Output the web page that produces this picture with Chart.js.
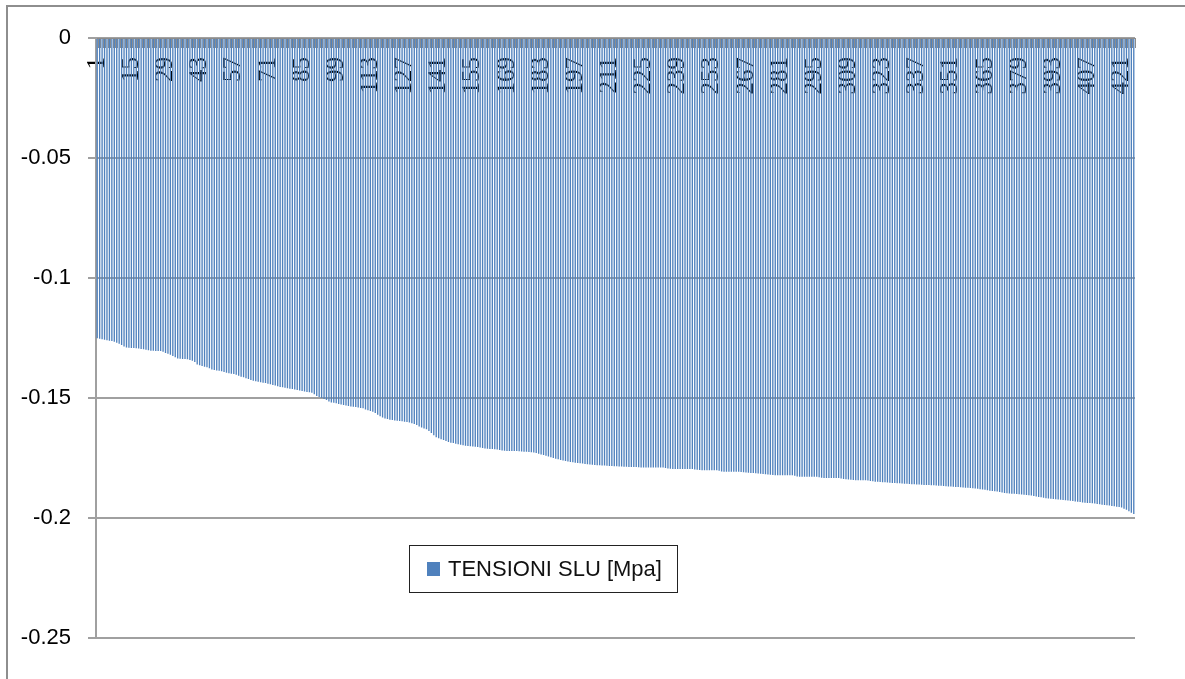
<!DOCTYPE html>
<html>
<head>
<meta charset="utf-8">
<title>TENSIONI SLU [Mpa]</title>
<script src="https://cdn.jsdelivr.net/npm/chart.js@4.4.1/dist/chart.umd.min.js"></script>
<style>
  html, body { margin: 0; padding: 0; background: #fff; overflow: hidden; }
  #frame { position: absolute; left: 6px; top: 5px; width: 1400px; height: 900px; border: 2px solid #8e8e8e; }
  #wrap { position: absolute; left: 0; top: 0; width: 1185px; height: 679px; }
</style>
</head>
<body>
<div id="frame"></div>
<div id="wrap"><canvas id="chart"></canvas></div>
<script>
// Stress per element, sorted, one row per 14 elements
const values = [
  -0.1251, -0.1253, -0.1255, -0.1257, -0.1259, -0.1261, -0.1263, -0.1266, -0.1270, -0.1274, -0.1279, -0.1285, -0.1290, -0.1291,
  -0.1292, -0.1292, -0.1293, -0.1294, -0.1296, -0.1297, -0.1299, -0.1301, -0.1303, -0.1303, -0.1304, -0.1304, -0.1304, -0.1307,
  -0.1312, -0.1316, -0.1320, -0.1325, -0.1330, -0.1335, -0.1336, -0.1337, -0.1338, -0.1339, -0.1342, -0.1345, -0.1350, -0.1360,
  -0.1364, -0.1367, -0.1370, -0.1372, -0.1376, -0.1381, -0.1383, -0.1385, -0.1386, -0.1389, -0.1392, -0.1395, -0.1397, -0.1399,
  -0.1400, -0.1403, -0.1407, -0.1411, -0.1414, -0.1418, -0.1421, -0.1425, -0.1428, -0.1430, -0.1432, -0.1434, -0.1436, -0.1438,
  -0.1441, -0.1443, -0.1446, -0.1448, -0.1451, -0.1454, -0.1455, -0.1457, -0.1459, -0.1461, -0.1463, -0.1465, -0.1467, -0.1469,
  -0.1471, -0.1473, -0.1475, -0.1476, -0.1478, -0.1484, -0.1492, -0.1496, -0.1500, -0.1504, -0.1508, -0.1515, -0.1519, -0.1520,
  -0.1522, -0.1525, -0.1527, -0.1529, -0.1531, -0.1533, -0.1535, -0.1536, -0.1538, -0.1540, -0.1542, -0.1543, -0.1548, -0.1551,
  -0.1554, -0.1557, -0.1563, -0.1570, -0.1576, -0.1581, -0.1585, -0.1588, -0.1591, -0.1592, -0.1594, -0.1595, -0.1596, -0.1597,
  -0.1599, -0.1600, -0.1602, -0.1605, -0.1608, -0.1613, -0.1619, -0.1623, -0.1627, -0.1630, -0.1638, -0.1646, -0.1655, -0.1664,
  -0.1668, -0.1672, -0.1675, -0.1679, -0.1683, -0.1686, -0.1688, -0.1691, -0.1693, -0.1695, -0.1697, -0.1699, -0.1700, -0.1701,
  -0.1702, -0.1703, -0.1704, -0.1706, -0.1708, -0.1710, -0.1711, -0.1712, -0.1713, -0.1714, -0.1715, -0.1717, -0.1719, -0.1720,
  -0.1721, -0.1721, -0.1721, -0.1721, -0.1721, -0.1722, -0.1723, -0.1724, -0.1724, -0.1725, -0.1726, -0.1727, -0.1729, -0.1732,
  -0.1735, -0.1738, -0.1741, -0.1744, -0.1747, -0.1750, -0.1753, -0.1755, -0.1758, -0.1760, -0.1762, -0.1765, -0.1767, -0.1768,
  -0.1770, -0.1771, -0.1772, -0.1773, -0.1775, -0.1776, -0.1777, -0.1778, -0.1779, -0.1780, -0.1780, -0.1781, -0.1781, -0.1782,
  -0.1783, -0.1783, -0.1784, -0.1784, -0.1785, -0.1785, -0.1786, -0.1786, -0.1787, -0.1787, -0.1788, -0.1788, -0.1789, -0.1790,
  -0.1790, -0.1790, -0.1790, -0.1790, -0.1790, -0.1790, -0.1790, -0.1790, -0.1790, -0.1792, -0.1794, -0.1795, -0.1796, -0.1796,
  -0.1796, -0.1796, -0.1796, -0.1796, -0.1796, -0.1796, -0.1796, -0.1798, -0.1799, -0.1800, -0.1801, -0.1801, -0.1801, -0.1801,
  -0.1801, -0.1801, -0.1801, -0.1803, -0.1806, -0.1807, -0.1807, -0.1807, -0.1807, -0.1807, -0.1807, -0.1807, -0.1808, -0.1809,
  -0.1810, -0.1811, -0.1812, -0.1813, -0.1814, -0.1815, -0.1816, -0.1817, -0.1818, -0.1819, -0.1820, -0.1821, -0.1822, -0.1822,
  -0.1822, -0.1822, -0.1822, -0.1822, -0.1822, -0.1822, -0.1824, -0.1827, -0.1828, -0.1828, -0.1828, -0.1828, -0.1828, -0.1828,
  -0.1828, -0.1828, -0.1830, -0.1832, -0.1833, -0.1833, -0.1833, -0.1833, -0.1833, -0.1833, -0.1833, -0.1835, -0.1837, -0.1839,
  -0.1840, -0.1841, -0.1842, -0.1843, -0.1843, -0.1843, -0.1843, -0.1843, -0.1844, -0.1846, -0.1847, -0.1849, -0.1849, -0.1850,
  -0.1851, -0.1851, -0.1852, -0.1853, -0.1854, -0.1854, -0.1855, -0.1855, -0.1856, -0.1857, -0.1857, -0.1858, -0.1859, -0.1859,
  -0.1860, -0.1860, -0.1861, -0.1862, -0.1862, -0.1863, -0.1864, -0.1864, -0.1865, -0.1866, -0.1866, -0.1867, -0.1868, -0.1869,
  -0.1869, -0.1870, -0.1871, -0.1871, -0.1872, -0.1873, -0.1874, -0.1874, -0.1875, -0.1876, -0.1877, -0.1878, -0.1880, -0.1881,
  -0.1882, -0.1884, -0.1886, -0.1887, -0.1889, -0.1890, -0.1892, -0.1894, -0.1896, -0.1897, -0.1898, -0.1899, -0.1899, -0.1900,
  -0.1901, -0.1902, -0.1903, -0.1904, -0.1905, -0.1906, -0.1908, -0.1910, -0.1912, -0.1914, -0.1916, -0.1918, -0.1919, -0.1920,
  -0.1921, -0.1922, -0.1923, -0.1924, -0.1925, -0.1926, -0.1927, -0.1928, -0.1929, -0.1931, -0.1932, -0.1933, -0.1935, -0.1936,
  -0.1937, -0.1938, -0.1939, -0.1940, -0.1942, -0.1943, -0.1945, -0.1946, -0.1947, -0.1948, -0.1950, -0.1951, -0.1953, -0.1954,
  -0.1956, -0.1961, -0.1966, -0.1972, -0.1978, -0.1983
];

// Element numbers 1..N, a label every 14th
const categories = values.map((v, i) => String(i + 1));
const labelStep = 14;

// Y axis range and tick step
const yMin = -0.25;
const yMax = 0;
const yStep = 0.05;

const seriesLabel = 'TENSIONI SLU [Mpa]';
const barColor = '#4f81bd';
const gridColor = '#a0a0a0';

// Legend box sitting inside the plot area
const legendBox = {
    id: 'legendBox',
    afterDraw(chart, args, opts) {
        const { ctx } = chart;
        const ds = chart.data.datasets[0];
        ctx.save();
        ctx.fillStyle = '#fff';
        ctx.fillRect(opts.x, opts.y, opts.w, opts.h);
        ctx.strokeStyle = '#222';
        ctx.lineWidth = 1;
        ctx.strokeRect(opts.x + 0.5, opts.y + 0.5, opts.w, opts.h);
        ctx.fillStyle = ds.backgroundColor;
        ctx.fillRect(opts.x + 18, opts.y + 17, 13, 14);
        ctx.fillStyle = '#111';
        ctx.font = '22px "Liberation Sans", Arial, sans-serif';
        ctx.textBaseline = 'middle';
        ctx.fillText(ds.label, opts.x + 39, opts.y + 25);
        ctx.restore();
    }
};

const ctx = document.getElementById('chart').getContext('2d');
new Chart(ctx, {
    type: 'bar',
    data: {
        labels: categories,
        datasets: [{
            label: seriesLabel,
            data: values,
            backgroundColor: barColor,
            borderWidth: 0,
            barPercentage: 0.55,
            categoryPercentage: 1.0
        }]
    },
    options: {
        responsive: true,
        maintainAspectRatio: false,
        animation: false,
        layout: { padding: { left: 0, top: 38, right: 50, bottom: 41 } },
        plugins: {
            legend: { display: false },
            tooltip: { enabled: false },
            legendBox: { x: 409, y: 545, w: 268, h: 47 }
        },
        scales: {
            x: {
                type: 'category',
                position: { y: 0 },
                z: 1,
                grid: {
                    drawOnChartArea: false,
                    drawTicks: true,
                    tickLength: 9,
                    color: '#8c8c8c',
                    lineWidth: 1,
                    offset: true
                },
                border: { display: true, color: '#8c8c8c', width: 1 },
                ticks: {
                    autoSkip: false,
                    minRotation: 90,
                    maxRotation: 90,
                    padding: 10,
                    color: '#000',
                    font: { family: 'Liberation Serif', size: 25 },
                    callback: (val, idx) => idx % labelStep === 0 ? categories[idx] : ''
                }
            },
            y: {
                min: yMin,
                max: yMax,
                ticks: {
                    stepSize: yStep,
                    padding: 17,
                    color: '#000',
                    font: { family: 'Liberation Sans', size: 22 },
                    callback: v => String(Number(v.toFixed(2)))
                },
                grid: { color: gridColor, lineWidth: 2, tickLength: 8 },
                border: { color: gridColor, width: 2 },
                afterFit: s => { s.width = 96; }
            }
        }
    },
    plugins: [legendBox]
});
</script>
</body>
</html>
